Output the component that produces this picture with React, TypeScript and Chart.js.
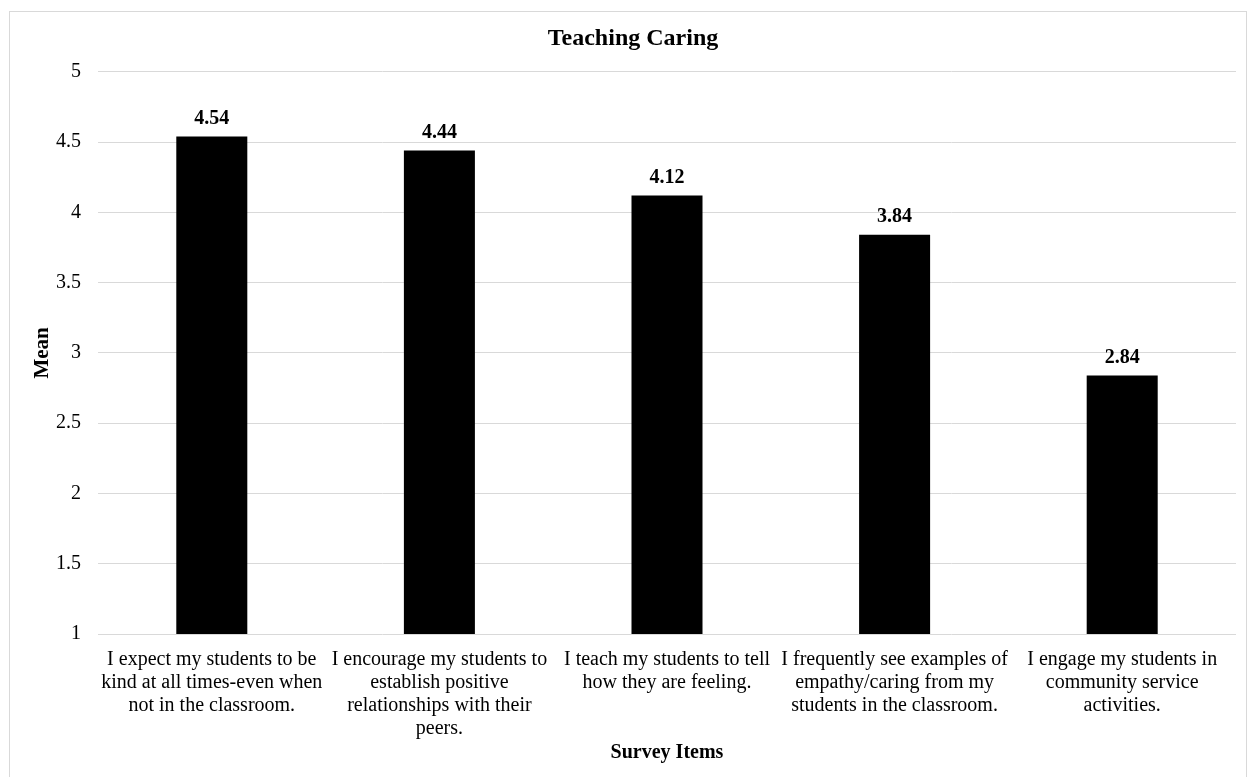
import React, { useEffect, useRef } from "react";
import { Chart, registerables } from "chart.js";

Chart.register(...registerables);

const chartTitle = "Teaching Caring";
const categories: string[][] = [
  ["I expect my students to be", "kind at all times-even when", "not in the classroom."],
  ["I encourage my students to", "establish positive", "relationships with their", "peers."],
  ["I teach my students to tell", "how they are feeling."],
  ["I frequently see examples of", "empathy/caring from my", "students in the classroom."],
  ["I engage my students in", "community service", "activities."],
];
const means = [4.54, 4.44, 4.12, 3.84, 2.84];
const yTitle = "Mean";
const xTitle = "Survey Items";

const FONT = "'Liberation Serif', 'Times New Roman', serif";

const valueLabels = {
  id: "valueLabels",
  afterDatasetsDraw(chart: any) {
    const ctx = chart.ctx;
    const meta = chart.getDatasetMeta(0);
    ctx.save();
    ctx.font = `bold 20px ${FONT}`;
    ctx.fillStyle = "#000";
    ctx.textAlign = "center";
    ctx.textBaseline = "middle";
    meta.data.forEach((bar: any, i: number) => {
      ctx.fillText(means[i].toFixed(2), bar.x, bar.y - 18);
    });
    ctx.restore();
  },
};

export default function App() {
  const ref = useRef<HTMLCanvasElement>(null);
  useEffect(() => {
    const chart = new Chart(ref.current!, {
      type: "bar",
      data: {
        labels: categories,
        datasets: [
          {
            data: means,
            backgroundColor: "#000",
            borderWidth: 0,
            barPercentage: 0.312,
            categoryPercentage: 1,
          },
        ],
      },
      options: {
        animation: false,
        responsive: false,
        devicePixelRatio: 1,
        layout: { padding: { left: 30, right: 19, top: 0, bottom: 12 } },
        plugins: {
          legend: { display: false },
          tooltip: { enabled: false },
          title: {
            display: true,
            text: chartTitle,
            color: "#000",
            font: { family: FONT, size: 24, weight: "bold", lineHeight: 1.2 },
            padding: { top: 24, bottom: 19 },
          },
        },
        scales: {
          x: {
            grid: { display: false, drawTicks: false },
            border: { display: false },
            ticks: {
              color: "#000",
              font: { family: FONT, size: 20, lineHeight: 1.15 },
              padding: 14,
              maxRotation: 0,
              autoSkip: false,
            },
            title: {
              display: true,
              text: xTitle,
              color: "#000",
              font: { family: FONT, size: 20, weight: "bold", lineHeight: 1.2 },
              padding: { top: 0, bottom: 0 },
            },
            afterFit(scale: any) {
              scale.height = 131;
            },
          },
          y: {
            min: 1,
            max: 5,
            grid: { color: "#d9d9d9", lineWidth: 1, drawTicks: false },
            border: { display: false },
            ticks: {
              stepSize: 0.5,
              color: "#000",
              font: { family: FONT, size: 20 },
              padding: 17,
              callback: (v: any) => String(Number(v)),
            },
            title: {
              display: true,
              text: yTitle,
              color: "#000",
              font: { family: FONT, size: 21, weight: "bold", lineHeight: 1.2 },
              padding: { top: 0, bottom: 0 },
            },
            afterFit(scale: any) {
              scale.width = 68;
            },
          },
        },
      },
      plugins: [valueLabels],
    });
    return () => chart.destroy();
  }, []);

  return (
    <div style={{ position: "absolute", left: 0, top: 0, width: 1255, height: 777, background: "#fff", overflow: "hidden" }}>
      <div
        style={{
          position: "absolute",
          left: 9,
          top: 11,
          width: 1238,
          height: 800,
          border: "1px solid #d9d9d9",
          boxSizing: "border-box",
        }}
      />
      <canvas ref={ref} width={1255} height={777} style={{ position: "absolute", left: 0, top: 0 }} />
    </div>
  );
}
